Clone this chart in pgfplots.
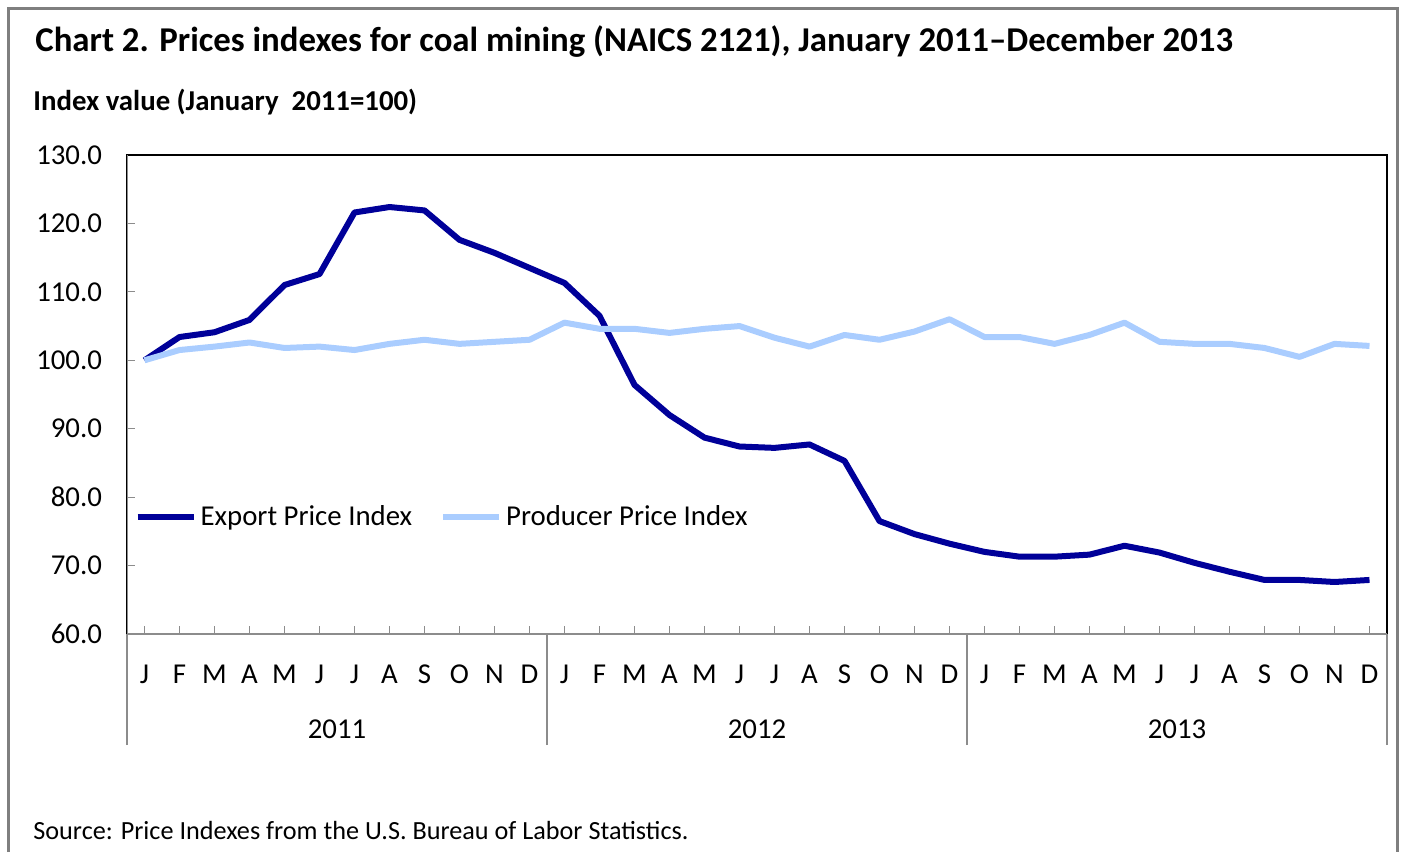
\documentclass[border=0pt]{standalone}
\usepackage{fontspec}
\setmainfont{Carlito}
\usepackage{pgfplots}
\usepackage{pgfplotstable}
\pgfplotsset{compat=1.18}
\definecolor{exportblue}{HTML}{000099}
\definecolor{ppiblue}{HTML}{AACDFF}
\definecolor{framegray}{HTML}{7F7F7F}
\definecolor{axisgray}{HTML}{8C8C8C}

% month index (0 = Jan 2011), export price index, producer price index
\pgfplotstableread{
m   exp    ppi
0   100.0  100.0
1   103.4  101.5
2   104.1  102.0
3   105.9  102.6
4   111.0  101.8
5   112.6  102.0
6   121.6  101.5
7   122.4  102.4
8   121.9  103.0
9   117.6  102.4
10  115.7  102.7
11  113.5  103.0
12  111.3  105.5
13  106.5  104.6
14   96.4  104.6
15   92.0  104.0
16   88.7  104.6
17   87.4  105.0
18   87.2  103.3
19   87.7  102.0
20   85.3  103.7
21   76.5  103.0
22   74.6  104.2
23   73.2  106.0
24   72.0  103.4
25   71.3  103.4
26   71.3  102.4
27   71.6  103.7
28   72.9  105.5
29   71.9  102.7
30   70.4  102.4
31   69.1  102.4
32   67.9  101.8
33   67.9  100.5
34   67.6  102.4
35   67.9  102.1
}\coaldata

\begin{document}
\begin{tikzpicture}[x=0.5pt,y=0.5pt]
\useasboundingbox (0,0) rectangle (1401,852);
\draw[framegray, line width=1.5pt] (8,0) -- (8,843) -- (1397,843) -- (1397,0);

\node[anchor=base west, inner sep=0pt, font=\bfseries\fontsize{17.4}{20}\selectfont]
  at (35,800) {Chart 2. Prices indexes for coal mining (NAICS 2121), January 2011--December 2013};
\node[anchor=base west, inner sep=0pt, font=\bfseries\fontsize{14.4}{16}\selectfont]
  at (33,741) {Index value (January\ \ 2011=100)};
\node[anchor=base west, inner sep=0pt, font=\fontsize{13.1}{15}\selectfont]
  at (33,13) {Source: Price Indexes from the U.S. Bureau of Labor Statistics.};

\begin{axis}[
    at={(63.5pt,109pt)}, anchor=south west,
    width=630pt, height=239.5pt, scale only axis,
    xmin=-0.5, xmax=35.5, ymin=60, ymax=130,
    xtick={0,...,35},
    xticklabels={J,F,M,A,M,J,J,A,S,O,N,D,J,F,M,A,M,J,J,A,S,O,N,D,J,F,M,A,M,J,J,A,S,O,N,D},
    ytick={60,70,...,130},
    xtick pos=lower, ytick pos=left,
    tick align=inside, major tick length=4pt,
    tick style={axisgray, line width=0.6pt},
    extra x ticks={-0.5,11.5,23.5,35.5},
    extra x tick labels={},
    extra x tick style={tick align=outside, major tick length=55.5pt},
    axis line style={black, line width=0.8pt},
    ticklabel style={font=\fontsize{14.4}{16}\selectfont},
    yticklabel style={xshift=-9pt, /pgf/number format/fixed, /pgf/number format/fixed zerofill,
      /pgf/number format/precision=1, /pgf/number format/assume math mode=true},
    xticklabel style={yshift=-12pt},
    legend style={draw=none, fill=none, at={(0.001,0.244)}, anchor=west,
      legend columns=2, font=\fontsize{14.4}{16}\selectfont,
      /tikz/every even column/.append style={column sep=12pt}},
    legend image code/.code={\draw[#1] (0pt,0pt) -- (28pt,0pt);},
]
\addplot[exportblue, line width=3pt, line join=round] table[x=m, y=exp] {\coaldata};
\addplot[ppiblue, line width=3pt, line join=round] table[x=m, y=ppi] {\coaldata};
\legend{Export Price Index, Producer Price Index}
\draw[axisgray, line width=0.8pt] (rel axis cs:0,1) -- (rel axis cs:0,0) -- (rel axis cs:1,0);
\end{axis}

\node[anchor=base, inner sep=0pt, font=\fontsize{14.4}{16}\selectfont] at (337,114) {2011};
\node[anchor=base, inner sep=0pt, font=\fontsize{14.4}{16}\selectfont] at (757,114) {2012};
\node[anchor=base, inner sep=0pt, font=\fontsize{14.4}{16}\selectfont] at (1177,114) {2013};
\end{tikzpicture}
\end{document}
